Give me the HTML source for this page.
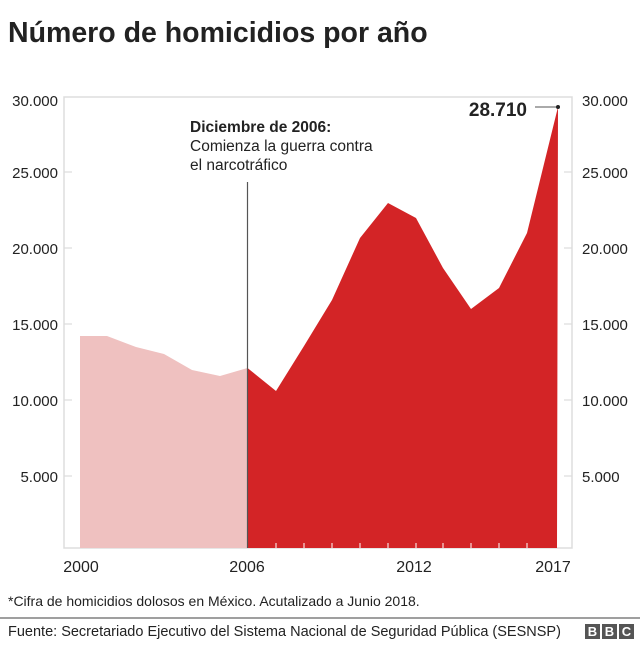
<!DOCTYPE html>
<html><head><meta charset="utf-8"><style>
body{margin:0;background:#fff;width:640px;height:645px;overflow:hidden;font-family:"Liberation Sans",sans-serif}
</style></head><body>
<svg width="640" height="645" xmlns="http://www.w3.org/2000/svg" font-family="Liberation Sans, sans-serif">
<text x="8" y="42" font-size="28.5" font-weight="bold" fill="#222">Número de homicidios por año</text>
<rect x="64" y="97" width="508" height="451" fill="none" stroke="#ddd" stroke-width="1.5"/>
<g stroke="#ddd" stroke-width="1.2">
<line x1="64" y1="172" x2="72" y2="172"/><line x1="64" y1="248" x2="72" y2="248"/><line x1="64" y1="324" x2="72" y2="324"/><line x1="64" y1="400" x2="72" y2="400"/><line x1="64" y1="476" x2="72" y2="476"/>
<line x1="564" y1="172" x2="572" y2="172"/><line x1="564" y1="248" x2="572" y2="248"/><line x1="564" y1="324" x2="572" y2="324"/><line x1="564" y1="400" x2="572" y2="400"/><line x1="564" y1="476" x2="572" y2="476"/>
</g>
<polygon fill="#efc1c0" points="80,548 80,336 107,336 136,347 164,354 192,370 220,376 247.5,368 247.5,548"/>
<polygon fill="#d32426" points="247.5,548 247.5,368 276,391 304,346 332,300 360,238 388,203 416,218 443,268 471,309 499,288 527,233 558,107 557,548"/>
<g stroke="#fff" stroke-width="1">
<line x1="276" y1="543" x2="276" y2="548"/><line x1="304" y1="543" x2="304" y2="548"/><line x1="332" y1="543" x2="332" y2="548"/><line x1="360" y1="543" x2="360" y2="548"/><line x1="388" y1="543" x2="388" y2="548"/><line x1="416" y1="543" x2="416" y2="548"/><line x1="443" y1="543" x2="443" y2="548"/><line x1="471" y1="543" x2="471" y2="548"/><line x1="499" y1="543" x2="499" y2="548"/><line x1="527" y1="543" x2="527" y2="548"/>
</g>
<line x1="247.5" y1="182" x2="247.5" y2="548" stroke="#555" stroke-width="1.2"/>
<line x1="535" y1="107" x2="558" y2="107" stroke="#555" stroke-width="1"/>
<circle cx="558" cy="107" r="2" fill="#222"/>
<text x="527" y="116" font-size="19" font-weight="bold" fill="#222" text-anchor="end">28.710</text>
<text x="190" y="132" font-size="15.5" font-weight="bold" fill="#222">Diciembre de 2006:</text>
<text x="190" y="151" font-size="15.5" fill="#222">Comienza la guerra contra</text>
<text x="190" y="170" font-size="15.5" fill="#222">el narcotráfico</text>
<g font-size="15" fill="#222">
<text x="58" y="106" text-anchor="end">30.000</text><text x="58" y="178" text-anchor="end">25.000</text><text x="58" y="254" text-anchor="end">20.000</text><text x="58" y="330" text-anchor="end">15.000</text><text x="58" y="406" text-anchor="end">10.000</text><text x="58" y="482" text-anchor="end">5.000</text>
<text x="582" y="106">30.000</text><text x="582" y="178">25.000</text><text x="582" y="254">20.000</text><text x="582" y="330">15.000</text><text x="582" y="406">10.000</text><text x="582" y="482">5.000</text>
</g>
<g font-size="16" fill="#222">
<text x="81" y="572" text-anchor="middle">2000</text><text x="247" y="572" text-anchor="middle">2006</text><text x="414" y="572" text-anchor="middle">2012</text><text x="553" y="572" text-anchor="middle">2017</text>
</g>
<text x="8" y="606" font-size="14" fill="#222">*Cifra de homicidios dolosos en México. Acutalizado a Junio 2018.</text>
<line x1="0" y1="618" x2="640" y2="618" stroke="#666" stroke-width="1.2"/>
<text x="8" y="636" font-size="14.5" fill="#222">Fuente: Secretariado Ejecutivo del Sistema Nacional de Seguridad Pública (SESNSP)</text>
<g font-size="13" font-weight="bold" fill="#fff" text-anchor="middle">
<rect x="585" y="624" width="15" height="15" fill="#555"/><text x="592.5" y="636">B</text>
<rect x="602" y="624" width="15" height="15" fill="#555"/><text x="609.5" y="636">B</text>
<rect x="619" y="624" width="15" height="15" fill="#555"/><text x="626.5" y="636">C</text>
</g>
</svg>
</body></html>
